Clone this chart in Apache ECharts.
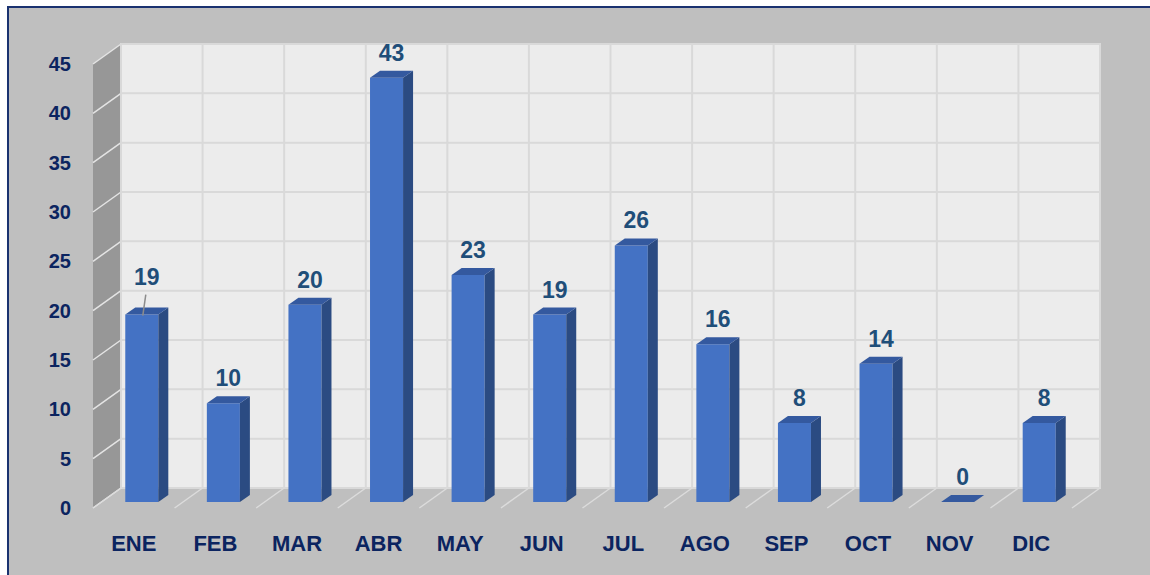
<!DOCTYPE html>
<html>
<head>
<meta charset="utf-8">
<title>Gráfico mensual</title>
<script src="https://cdn.jsdelivr.net/npm/echarts@6/dist/echarts.min.js"></script>
<style>
  html, body { margin: 0; padding: 0; background: #ffffff; overflow: hidden; }
  #panel {
    position: absolute; left: 7px; top: 6px; width: 1160px; height: 590px;
    background: #bfbfbf; border: 2px solid #1a3270;
  }
  #chart-container { position: absolute; left: 0; top: 0; width: 1150px; height: 575px; }
</style>
</head>
<body>
<div id="panel"></div>
<div id="chart-container"></div>
<script>
// data
var months = ['ENE', 'FEB', 'MAR', 'ABR', 'MAY', 'JUN', 'JUL', 'AGO', 'SEP', 'OCT', 'NOV', 'DIC'];
var counts = [19, 10, 20, 43, 23, 19, 26, 16, 8, 14, 0, 8];
var yMin = 0, yMax = 45, yStep = 5;

// fake 3d depth of the box (px) and where the bars sit inside it
var DEPTH_X = 28, DEPTH_Y = -20;
var BAR_DX = 8, BAR_DY = -6;       // bar front face offset from front plane
var BAR_DEPTH_X = 10, BAR_DEPTH_Y = -7;
var BAR_RATIO = 0.405;

var font = '"Liberation Sans", Arial, sans-serif';

function renderFrame(params, api) {
  var cs = params.coordSys;
  var band = cs.width / months.length;
  var children = [];
  var L = cs.x, R = cs.x + cs.width;
  var y0 = api.coord([0, yMin])[1], yT = api.coord([0, yMax])[1];

  // back wall
  children.push({
    type: 'rect',
    shape: { x: L + DEPTH_X, y: yT + DEPTH_Y, width: cs.width, height: y0 - yT },
    style: { fill: '#ececec', stroke: '#dadada', lineWidth: 2 }
  });
  // side wall
  children.push({
    type: 'polygon',
    shape: { points: [[L, y0], [L + DEPTH_X, y0 + DEPTH_Y], [L + DEPTH_X, yT + DEPTH_Y], [L, yT]] },
    style: { fill: '#979797' }
  });
  // floor
  children.push({
    type: 'polygon',
    shape: { points: [[L, y0], [R, y0], [R + DEPTH_X, y0 + DEPTH_Y], [L + DEPTH_X, y0 + DEPTH_Y]] },
    style: { fill: '#bfbfbf' }
  });
  for (var v = yMin; v <= yMax; v += yStep) {
    var y = api.coord([0, v])[1];
    children.push({
      type: 'line',
      shape: { x1: L + DEPTH_X, y1: y + DEPTH_Y, x2: R + DEPTH_X, y2: y + DEPTH_Y },
      style: { stroke: '#d9d9d9', lineWidth: 2 }
    });
    children.push({
      type: 'line',
      shape: { x1: L, y1: y, x2: L + DEPTH_X, y2: y + DEPTH_Y },
      style: { stroke: '#e4e4e4', lineWidth: 1.5 }
    });
  }
  for (var k = 0; k <= months.length; k++) {
    var x = L + k * band;
    children.push({
      type: 'line',
      shape: { x1: x + DEPTH_X, y1: yT + DEPTH_Y, x2: x + DEPTH_X, y2: y0 + DEPTH_Y },
      style: { stroke: '#d9d9d9', lineWidth: 2 }
    });
    children.push({
      type: 'line',
      shape: { x1: x, y1: y0, x2: x + DEPTH_X, y2: y0 + DEPTH_Y },
      style: { stroke: '#dcdcdc', lineWidth: 1.5 }
    });
  }
  return { type: 'group', children: children };
}

function renderBar(params, api) {
  var i = api.value(0), v = api.value(1);
  var base = api.coord([i, 0]);
  var top = api.coord([i, v]);
  var w = api.size([1, 0])[0] * BAR_RATIO;
  var x0 = base[0] - w / 2 + BAR_DX, x1 = x0 + w;
  var yb = base[1] + BAR_DY, yt = top[1] + BAR_DY;
  var children = [];
  if (v > 0) {
    children.push({
      type: 'rect',
      shape: { x: x0, y: yt, width: w, height: yb - yt },
      style: { fill: '#4472c4' }
    });
    children.push({
      type: 'polygon',
      shape: { points: [[x1, yb], [x1 + BAR_DEPTH_X, yb + BAR_DEPTH_Y], [x1 + BAR_DEPTH_X, yt + BAR_DEPTH_Y], [x1, yt]] },
      style: { fill: '#2b4b82' }
    });
  }
  children.push({
    type: 'polygon',
    shape: { points: [[x0, yt], [x1, yt], [x1 + BAR_DEPTH_X, yt + BAR_DEPTH_Y], [x0 + BAR_DEPTH_X, yt + BAR_DEPTH_Y]] },
    style: { fill: '#34599f' }
  });
  // value label (first one is lifted with a leader line, as in the original)
  var lx = (x0 + x1) / 2 + BAR_DEPTH_X / 2;
  var ly = yt - 25;
  if (params.dataIndex === 0) {
    ly -= 13;
    children.push({
      type: 'line',
      shape: { x1: (x0 + x1) / 2 + 1, y1: yt + 1, x2: lx - 1, y2: ly + 18 },
      style: { stroke: '#8c8c8c', lineWidth: 1.5 }
    });
  }
  children.push({
    type: 'text',
    style: {
      x: lx, y: ly, text: String(v),
      fill: '#1f4e79', font: 'bold 23px ' + font,
      textAlign: 'center', textVerticalAlign: 'middle'
    }
  });
  return { type: 'group', children: children };
}

var chart = echarts.init(document.getElementById('chart-container'), null, { renderer: 'svg' });
var option = {
  backgroundColor: 'transparent',
  animation: false,
  grid: { left: 93, right: 78, top: 64, bottom: 67 },
  xAxis: {
    type: 'category',
    data: months,
    boundaryGap: true,
    axisLine: { show: false },
    axisTick: { show: false },
    axisLabel: { color: '#0b2460', fontFamily: font, fontWeight: 'bold', fontSize: 22, margin: 24 }
  },
  yAxis: {
    type: 'value',
    min: yMin, max: yMax, interval: yStep,
    axisLine: { show: false },
    axisTick: { show: false },
    splitLine: { show: false },
    axisLabel: { color: '#0b2460', fontFamily: font, fontWeight: 'bold', fontSize: 20, margin: 22 }
  },
  series: [
    {
      type: 'custom',
      renderItem: renderFrame,
      data: [[0, 0]],
      silent: true,
      z: 1
    },
    {
      type: 'custom',
      renderItem: renderBar,
      data: counts.map(function (c, i) { return [i, c]; }),
      z: 2
    }
  ]
};
chart.setOption(option);
</script>
</body>
</html>
